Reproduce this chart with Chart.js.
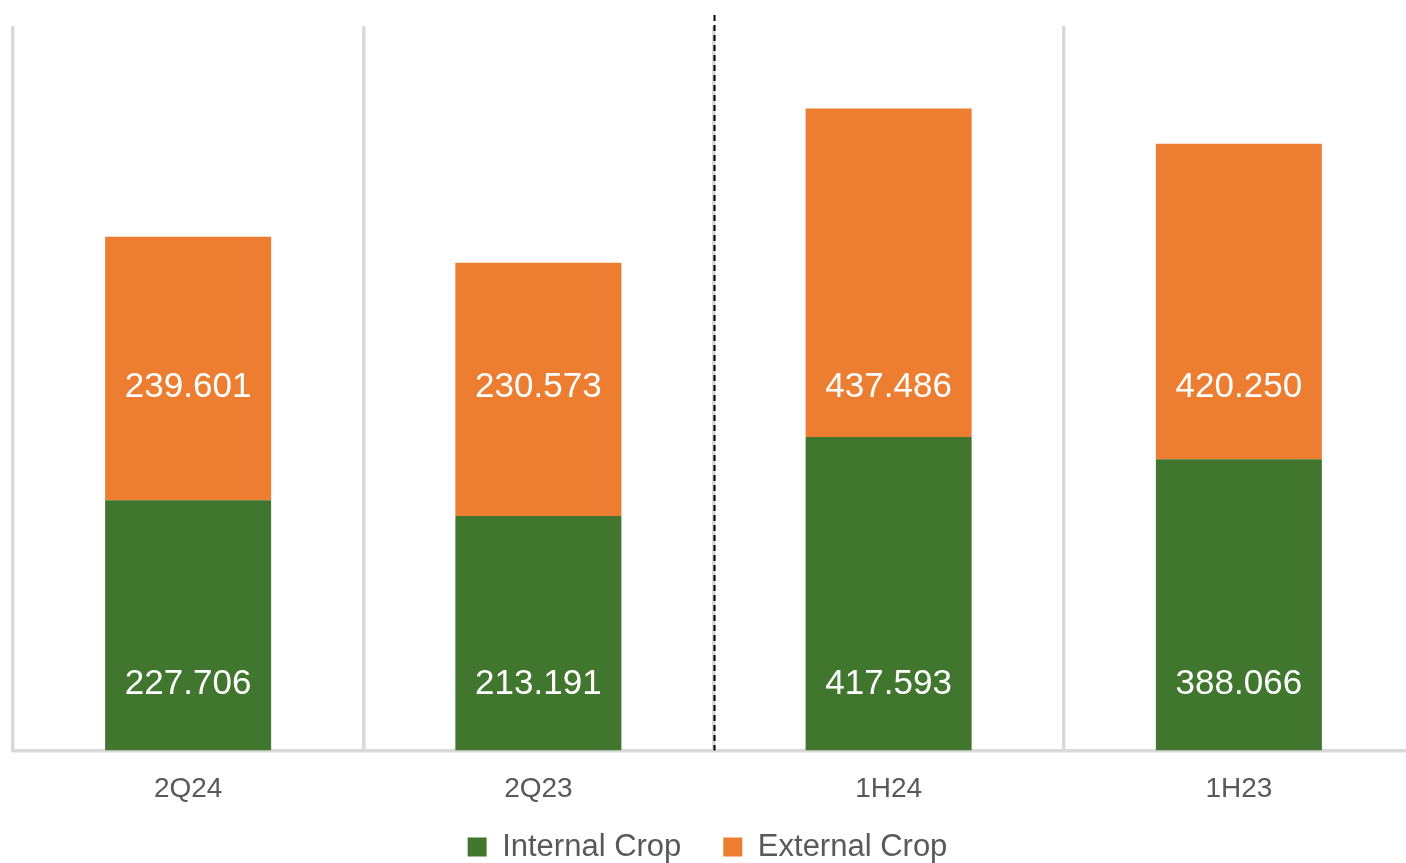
<!DOCTYPE html>
<html><head><meta charset="utf-8">
<script src="https://cdn.jsdelivr.net/npm/chart.js@4.4.1/dist/chart.umd.min.js"></script>
<style>
html,body{margin:0;padding:0;background:#fff;overflow:hidden;width:1406px;height:863px;}
#wrap{position:relative;width:1420px;height:863px;}
</style></head><body>
<div id="wrap"><canvas id="c" width="1420" height="863"></canvas></div>
<script>
// ---- data ----
const categories = ['2Q24', '2Q23', '1H24', '1H23'];
const internalCrop = [227.706, 213.191, 417.593, 388.066];
const externalCrop = [239.601, 230.573, 437.486, 420.250];
const seriesNames = ['Internal Crop', 'External Crop'];
const periodGroup = ['quarter', 'quarter', 'half', 'half'];
const quarterAxisMax = 659;
const halfAxisMax = 965;

// ---- styles ----
const FONT = '"Liberation Sans", Arial, Helvetica, sans-serif';
const GREEN = '#41762f';
const ORANGE = '#ed7d31';
const GRID = '#d9d9d9';
const TEXT = '#595959';

function pick(arr, group) { return arr.map((v, i) => periodGroup[i] === group ? v : null); }

const datasets = [
  { label: seriesNames[0], data: pick(internalCrop, 'quarter'), yAxisID: 'yQ', backgroundColor: GREEN, labelLevel: 0.0918 },
  { label: seriesNames[1], data: pick(externalCrop, 'quarter'), yAxisID: 'yQ', backgroundColor: ORANGE, labelLevel: 0.5017 },
  { label: seriesNames[0], data: pick(internalCrop, 'half'), yAxisID: 'yH', backgroundColor: GREEN, labelLevel: 0.0918 },
  { label: seriesNames[1], data: pick(externalCrop, 'half'), yAxisID: 'yH', backgroundColor: ORANGE, labelLevel: 0.5017 }
].map(d => Object.assign(d, { stack: 'all', borderWidth: 0, barPercentage: 0.474, categoryPercentage: 1 }));

const valueLabels = {
  id: 'valueLabels',
  afterDatasetsDraw(chart) {
    const { ctx, chartArea: a } = chart;
    ctx.save();
    ctx.fillStyle = '#ffffff';
    ctx.font = '35px ' + FONT;
    ctx.textAlign = 'center';
    ctx.textBaseline = 'middle';
    chart.data.datasets.forEach((ds, di) => {
      const meta = chart.getDatasetMeta(di);
      meta.data.forEach((el, i) => {
        const v = ds.data[i];
        if (v == null) return;
        ctx.fillText(v.toFixed(3), el.x, a.bottom - ds.labelLevel * (a.bottom - a.top));
      });
    });
    ctx.restore();
  }
};

const divider = {
  id: 'divider',
  afterDraw(chart) {
    const { ctx, chartArea: a } = chart;
    const xs = chart.scales.x;
    let idx = periodGroup.findIndex((g, i) => i > 0 && g !== periodGroup[i - 1]);
    if (idx < 0) return;
    const px = (xs.getPixelForValue(idx - 1) + xs.getPixelForValue(idx)) / 2 + 1;
    ctx.save();
    ctx.strokeStyle = '#000';
    ctx.lineWidth = 2;
    ctx.setLineDash([6, 4]);
    ctx.beginPath();
    ctx.moveTo(px, a.top - 11);
    ctx.lineTo(px, a.bottom);
    ctx.stroke();
    ctx.restore();
  }
};

// move the legend block so it sits where the reference has it
const legendNudge = {
  id: 'legendNudge',
  afterLayout(chart) {
    const lg = chart.legend;
    if (!lg) return;
    lg.top -= 21;
    lg.bottom -= 21;
    lg.left -= 6;
    lg.right -= 6;
  }
};

const chart = new Chart(document.getElementById('c'), {
  type: 'bar',
  data: { labels: categories, datasets },
  options: {
    responsive: false,
    animation: false,
    layout: { padding: { left: 13, right: 6, top: 26, bottom: -30.5 } },
    plugins: {
      tooltip: { enabled: false },
      legend: {
        position: 'bottom',
        labels: {
          filter: (item) => item.datasetIndex < 2,
          boxWidth: 19, boxHeight: 19, padding: 42,
          color: TEXT, font: { family: FONT, size: 31 }
        }
      }
    },
    scales: {
      x: {
        stacked: true, offset: true, z: 1,
        grid: { display: true, offset: true, color: GRID, lineWidth: 3.5, drawTicks: false },
        border: { display: true, color: GRID, width: 3.5 },
        ticks: { color: TEXT, font: { family: FONT, size: 28 }, padding: 21.5 },
        afterFit(s) { s.height = 60; }
      },
      yQ: { type: 'linear', display: false, stacked: true, min: 0, max: quarterAxisMax, position: 'left' },
      yH: { type: 'linear', display: false, stacked: true, min: 0, max: halfAxisMax, position: 'right' }
    }
  },
  plugins: [valueLabels, divider, legendNudge]
});
</script>
</body></html>
